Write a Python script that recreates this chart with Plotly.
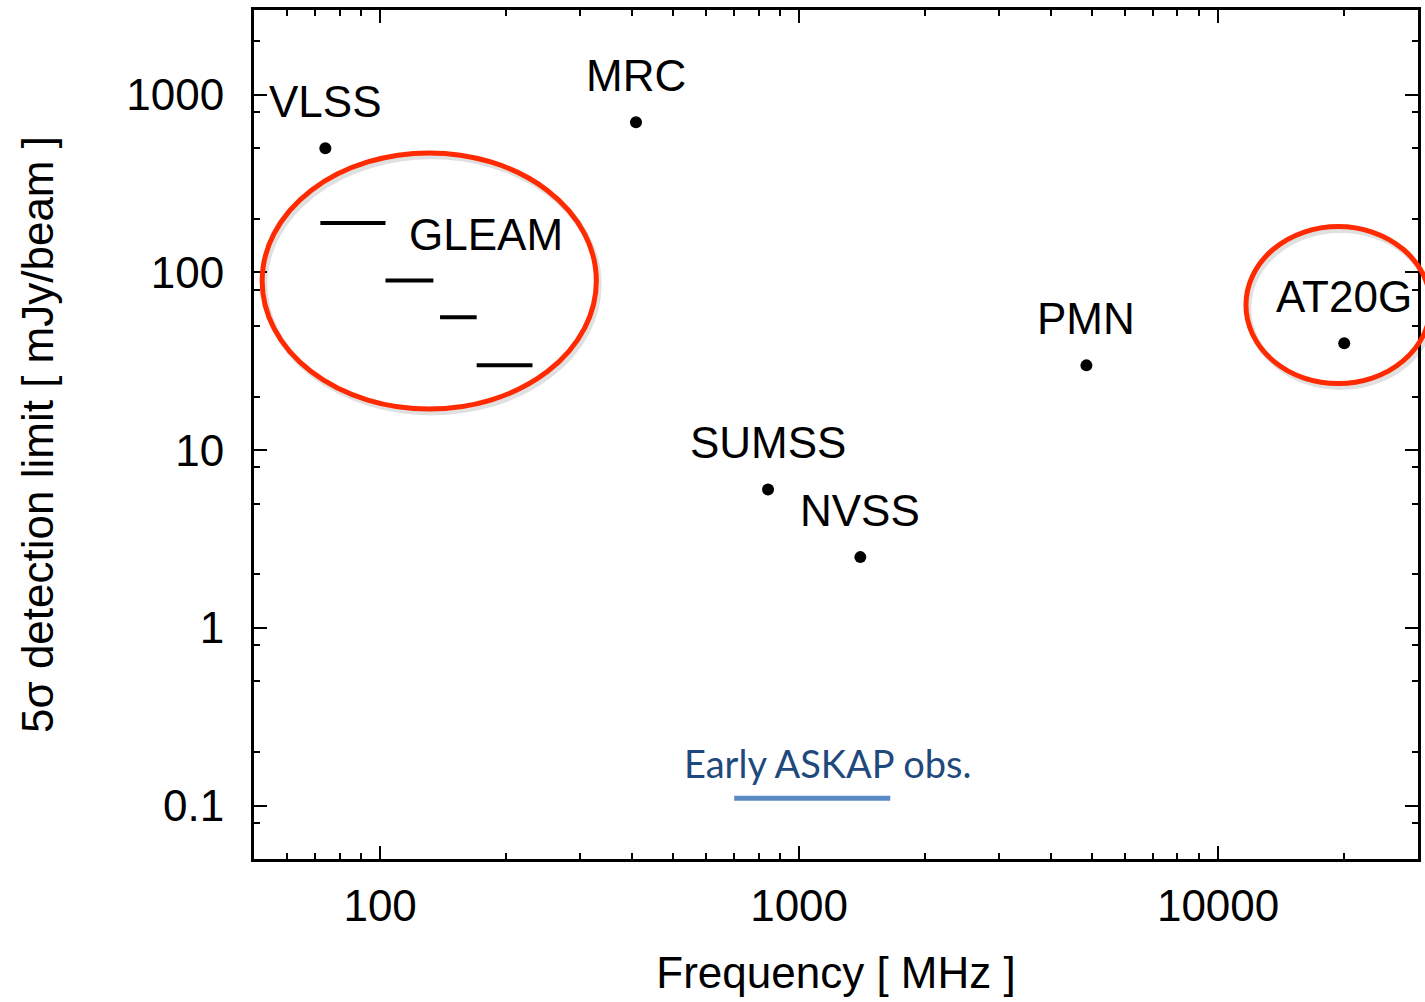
import math
import plotly.graph_objects as go

# ---- data ----
survey_names = ["VLSS", "MRC", "SUMSS", "NVSS", "PMN", "AT20G"]
survey_freq = [74, 408, 843, 1400, 4850, 20000]        # MHz
survey_limit = [500, 700, 6, 2.5, 30, 40]              # mJy/beam

gleam_freq_lo = [72, 103, 139, 170]
gleam_freq_hi = [103, 134, 170, 231]
gleam_limit = [190, 90, 56, 30]

askap_freq = [700, 1650]
askap_level = [0.11, 0.11]

x_major = [100, 1000, 10000]
x_major_text = ["100", "1000", "10000"]
y_major = [0.1, 1, 10, 100, 1000]
y_major_text = ["0.1", "1", "10", "100", "1000"]
x_minor = [60, 70, 80, 90, 200, 300, 400, 500, 600, 700, 800, 900,
           2000, 3000, 4000, 5000, 6000, 7000, 8000, 9000, 20000]
y_minor = [0.08, 0.2, 0.5, 0.8, 2, 5, 8, 20, 50, 80, 200, 500, 800, 2000]

FONT = "Liberation Sans, Arial, Helvetica, sans-serif"

fig = go.Figure()

# GLEAM bands
for lo, hi, lim in zip(gleam_freq_lo, gleam_freq_hi, gleam_limit):
    fig.add_trace(go.Scatter(x=[lo, hi], y=[lim, lim], mode="lines",
                             line=dict(color="black", width=4),
                             showlegend=False, hoverinfo="skip"))

# ASKAP band
fig.add_trace(go.Scatter(x=askap_freq, y=askap_level, mode="lines",
                         line=dict(color="#5A8AC6", width=5),
                         showlegend=False, hoverinfo="skip"))

# survey points
fig.add_trace(go.Scatter(x=survey_freq, y=survey_limit, mode="markers",
                         marker=dict(color="black", size=12),
                         showlegend=False, hoverinfo="skip"))

annotations = []
for name, f, s in zip(survey_names, survey_freq, survey_limit):
    annotations.append(dict(x=math.log10(f), y=math.log10(s), xref="x", yref="y",
                            text=name, showarrow=False, yshift=47,
                            xanchor="center", yanchor="middle",
                            font=dict(family=FONT, size=44, color="black")))

annotations.append(dict(x=0.1997, y=0.736, xref="paper", yref="paper",
                        text="GLEAM", showarrow=False, xanchor="center", yanchor="middle",
                        font=dict(family=FONT, size=44, color="black")))
annotations.append(dict(x=math.log10(1175), y=math.log10(askap_level[0]), xref="x", yref="y",
                        text="Early ASKAP obs.", showarrow=False, yshift=35,
                        xanchor="center", yanchor="middle",
                        font=dict(family="Lato, Open Sans, sans-serif", size=38, color="#1F497D")))

shapes = []
# ellipses (shadow + red), in pixel-derived paper coordinates
ell = [(0.0070, 0.8316, 0.2941, 0.5300), (0.8522, 0.7450, 1.0107, 0.5600)]
for x0, y0, x1, y1 in ell:
    shapes.append(dict(type="circle", xref="paper", yref="paper",
                       x0=x0 + 0.002, x1=x1 + 0.002, y0=y0 - 0.004, y1=y1 - 0.004,
                       line=dict(color="rgba(0,0,0,0.12)", width=6), layer="above"))
    shapes.append(dict(type="circle", xref="paper", yref="paper",
                       x0=x0, x1=x1, y0=y0, y1=y1,
                       line=dict(color="#FF2A00", width=5), layer="above"))

axis_common = dict(type="log", showline=True, linecolor="black", linewidth=3,
                   mirror="ticks", ticks="inside", ticklen=13, tickwidth=2,
                   tickcolor="black", showgrid=False, zeroline=False,
                   tickfont=dict(family=FONT, size=44, color="black"))

fig.update_layout(
    width=1425, height=1002,
    margin=dict(l=254, r=4, t=10, b=143),
    paper_bgcolor="white", plot_bgcolor="white",
    xaxis=dict(**axis_common,
               range=[math.log10(50), math.log10(30000)],
               tickmode="array", tickvals=x_major, ticktext=x_major_text,
               minor=dict(tickmode="array", tickvals=x_minor, ticks="inside",
                          ticklen=6, tickwidth=2, tickcolor="black", showgrid=False),
               ticklabelstandoff=6,
               title=dict(text="Frequency [ MHz ]", standoff=29,
                          font=dict(family=FONT, size=44, color="black"))),
    yaxis=dict(**axis_common,
               range=[math.log10(0.05), math.log10(3000)],
               tickmode="array", tickvals=y_major, ticktext=y_major_text,
               minor=dict(tickmode="array", tickvals=y_minor, ticks="inside",
                          ticklen=6, tickwidth=2, tickcolor="black", showgrid=False),
               ticklabelstandoff=18,
               title=dict(text="5σ detection limit [ mJy/beam ]", standoff=59,
                          font=dict(family=FONT, size=44, color="black"))),
    annotations=annotations,
    shapes=shapes,
)

fig.write_html("out.html")
